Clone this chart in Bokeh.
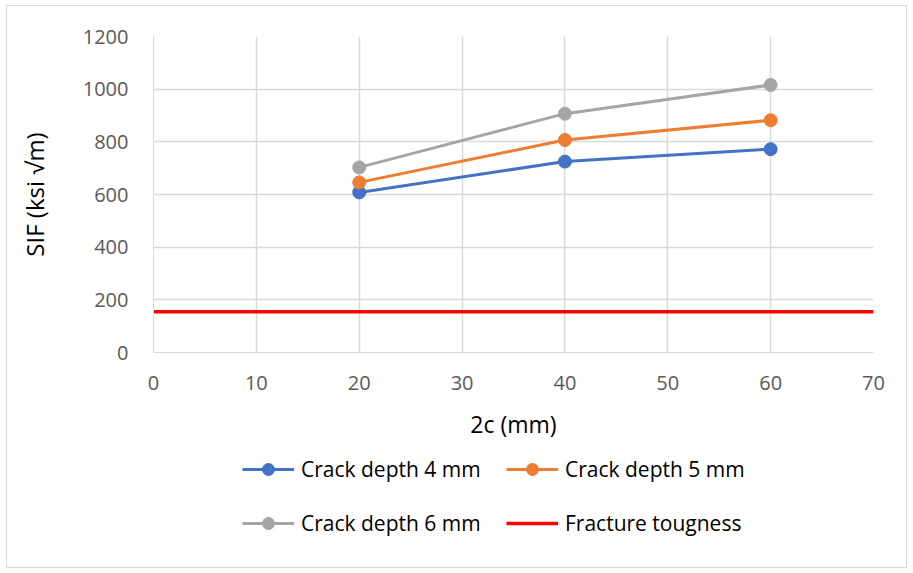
from bokeh.plotting import figure
from bokeh.layouts import column
from bokeh.models import Legend, LegendItem, FixedTicker, Range1d
from bokeh.embed import file_html
from bokeh.resources import INLINE

# Crack length 2c (mm) and stress intensity factors (ksi sqrt(m))
crack_length = [20, 40, 60]
sif_depth_4 = [608, 725, 772]
sif_depth_5 = [646, 807, 882]
sif_depth_6 = [703, 907, 1016]
toughness_x = [0, 70]
toughness_y = [155, 155]

series_names = ["Crack depth 4 mm", "Crack depth 5 mm", "Crack depth 6 mm"]
series_colors = ["#4472C4", "#ED7D31", "#A5A5A5"]
toughness_name = "Fracture tougness"
toughness_color = "#FF0000"

FONT = "Open Sans"
GRID = "#D9D9D9"

chart = figure(width=899, height=436, output_backend="svg",
               toolbar_location=None,
               x_range=Range1d(0, 70), y_range=Range1d(0, 1200),
               min_border_left=146, min_border_right=33, min_border_top=30,
               min_border_bottom=90)
chart.outline_line_color = None

chart.xaxis.ticker = FixedTicker(ticks=list(range(0, 71, 10)))
chart.yaxis.ticker = FixedTicker(ticks=list(range(0, 1201, 200)))
for ax in (chart.xaxis[0], chart.yaxis[0]):
    ax.major_tick_line_color = None
    ax.minor_tick_line_color = None
    ax.axis_line_color = GRID
    ax.major_label_text_font = FONT
    ax.major_label_text_font_size = "20px"
    ax.major_label_text_color = "#595959"
    ax.axis_label_text_font = FONT
    ax.axis_label_text_font_size = "23px"
    ax.axis_label_text_color = "#000000"
    ax.axis_label_text_font_style = "normal"
chart.yaxis.axis_label_text_font_size = "24px"
chart.xaxis.axis_label = "2c (mm)"
chart.yaxis.axis_label = "SIF (ksi \u221am)"
chart.xaxis.major_label_standoff = 17
chart.yaxis.major_label_standoff = 19
chart.xaxis.axis_label_standoff = 15
chart.yaxis.axis_label_standoff = 29

chart.xgrid.grid_line_color = GRID
chart.ygrid.grid_line_color = GRID
chart.xgrid.grid_line_width = 1.5
chart.ygrid.grid_line_width = 1.5

for color, vals in zip(series_colors, [sif_depth_4, sif_depth_5, sif_depth_6]):
    chart.line(crack_length, vals, line_color=color, line_width=3)
    chart.scatter(crack_length, vals, size=13, fill_color=color, line_color=color)
chart.line(toughness_x, toughness_y, line_color=toughness_color, line_width=3.5)

# Legend strip below the chart; its glyphs sit outside the strip's ranges,
# so only the legend entries show
key = figure(width=899, height=125, output_backend="svg", toolbar_location=None,
             x_range=Range1d(0, 1), y_range=Range1d(0, 1),
             min_border=0, outline_line_color=None)
key.axis.visible = False
key.grid.visible = False

off = [5, 6]
items = []
for name, color in zip(series_names, series_colors):
    ln = key.line(off, off, line_color=color, line_width=3)
    sc = key.scatter(off, off, size=13, fill_color=color, line_color=color)
    items.append(LegendItem(label=name, renderers=[ln, sc]))
rl = key.line(off, off, line_color=toughness_color, line_width=3.5)
items.append(LegendItem(label=toughness_name, renderers=[rl]))

legend = Legend(items=items, ncols=2, orientation="horizontal",
                location=(89, 29), border_line_color=None,
                background_fill_alpha=0,
                label_text_font=FONT, label_text_font_size="21px",
                label_text_color="#000000",
                glyph_width=52, glyph_height=30, label_standoff=7,
                spacing=24, padding=0, margin=0,
                label_height=30, label_width=181)
key.add_layout(legend, "center")

p = column(chart, key, spacing=0)
p.styles = {"border": "1px solid #D9D9D9", "margin-left": "6px", "margin-top": "5px"}

open("out.html", "w").write(file_html(p, INLINE))
